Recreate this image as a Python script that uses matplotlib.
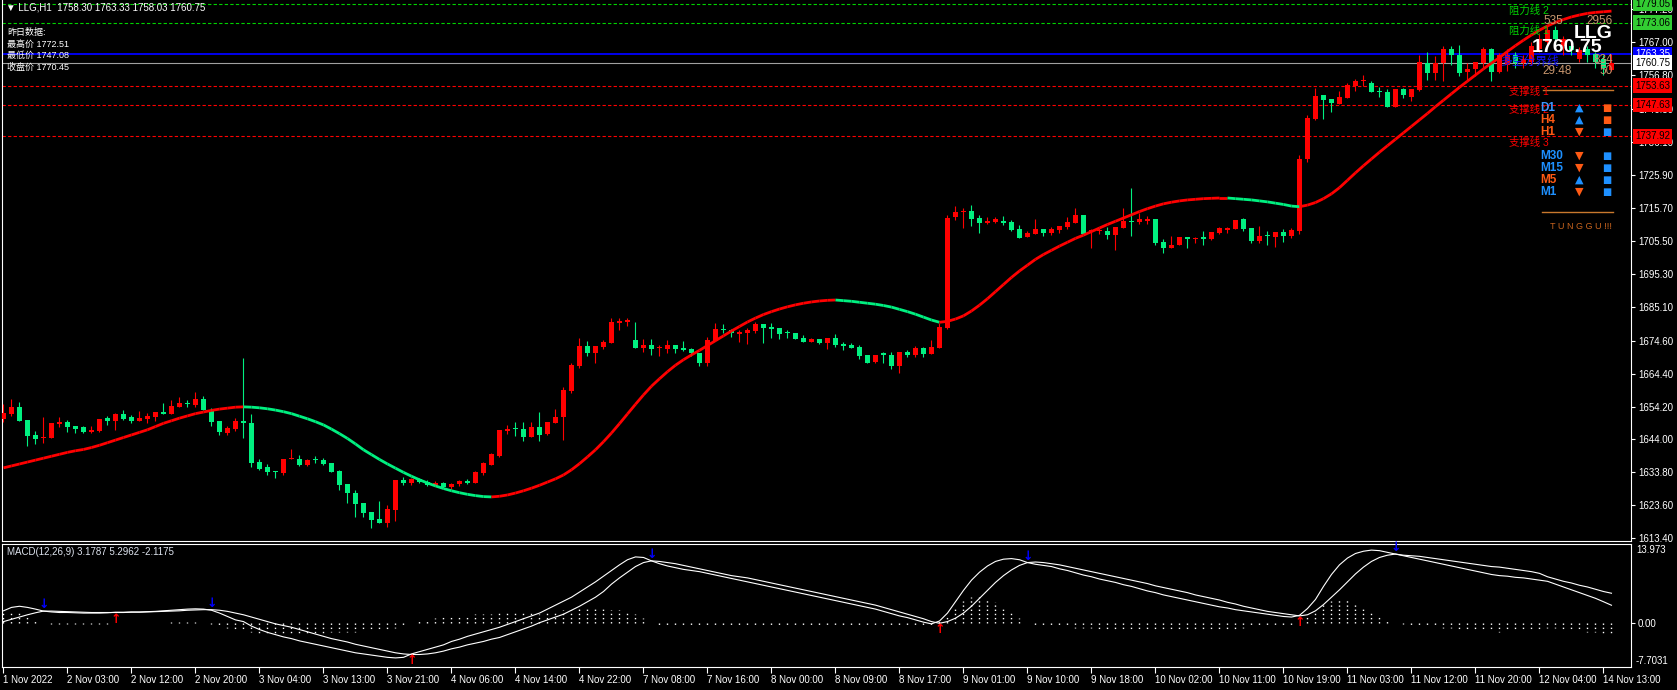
import matplotlib
matplotlib.use('Agg')
import matplotlib.pyplot as plt
import numpy as np
from matplotlib.collections import LineCollection

plt.rcParams['font.family'] = ['Liberation Sans', 'Noto Sans CJK SC', 'DejaVu Sans']

# ---- H1 bars (red = up bar, green = down bar) ----
open_ = [
    1650.3, 1651.9, 1654.0, 1650.0, 1645.4, 1644.5, 1644.5, 1648.9, 1649.5, 1648.2,
    1647.9, 1646.3, 1646.6, 1650.5, 1649.7, 1651.9, 1650.8, 1649.7, 1650.3, 1651.0,
    1652.6, 1651.9, 1654.1, 1655.0, 1654.8, 1656.5, 1652.9, 1649.7, 1646.1, 1647.3,
    1649.7, 1649.2, 1636.9, 1635.5, 1634.2, 1633.7, 1637.8, 1637.9, 1636.1, 1637.7,
    1637.6, 1636.6, 1634.2, 1630.2, 1627.5, 1624.4, 1621.5, 1619.3, 1618.1, 1622.1,
    1631.4, 1630.5, 1631.6, 1630.8, 1630.0, 1630.6, 1629.3, 1630.1, 1631.0, 1630.6,
    1633.7, 1636.1, 1638.9, 1646.7, 1647.3, 1647.3, 1644.9, 1647.9, 1645.6, 1649.0,
    1651.1, 1659.0, 1666.8, 1673.0, 1670.9, 1672.7, 1674.0, 1680.2, 1680.5, 1674.8,
    1672.4, 1673.3, 1672.4, 1672.1, 1673.3, 1672.3, 1672.0, 1670.7, 1667.8, 1674.6,
    1678.1, 1677.9, 1676.7, 1676.9, 1677.7, 1679.8, 1678.9, 1678.6, 1677.2, 1677.1,
    1675.5, 1674.3, 1675.0, 1673.8, 1675.5, 1673.5, 1673.3, 1672.7, 1670.2, 1668.1,
    1670.7, 1670.2, 1666.6, 1671.2, 1670.2, 1672.4, 1670.5, 1672.4, 1678.4, 1713.0,
    1714.5, 1714.9, 1712.7, 1711.1, 1711.4, 1711.8, 1711.4, 1709.2, 1706.7, 1707.6,
    1709.2, 1708.1, 1709.0, 1709.7, 1711.2, 1713.5, 1708.5, 1708.5, 1708.6, 1707.3,
    1709.4, 1711.5, 1711.3, 1711.7, 1712.3, 1705.3, 1703.2, 1704.2, 1706.8, 1706.2,
    1706.8, 1706.1, 1707.9, 1708.9, 1709.2, 1712.2, 1709.6, 1705.5, 1707.1, 1706.8,
    1708.4, 1707.0, 1708.6, 1731.0, 1743.2, 1750.7, 1749.5, 1747.9, 1749.9, 1753.5,
    1755.1, 1754.5, 1751.8, 1751.6, 1747.1, 1752.5, 1750.0, 1752.3, 1760.5, 1757.4,
    1760.5, 1765.0, 1763.1, 1757.7, 1758.9, 1760.6, 1765.0, 1757.8, 1760.0, 1763.0,
    1760.5, 1761.0, 1765.0, 1767.0, 1771.0, 1766.0, 1766.0, 1762.0, 1765.0, 1763.5,
    1762.0, 1758.30,
]
high = [
    1655.0, 1656.5, 1655.6, 1650.0, 1646.6, 1651.0, 1649.1, 1650.9, 1650.0, 1648.2,
    1648.2, 1648.3, 1650.3, 1651.4, 1652.3, 1653.1, 1651.6, 1652.8, 1652.3, 1652.6,
    1655.4, 1656.2, 1657.0, 1656.2, 1658.7, 1657.4, 1653.6, 1649.7, 1648.2, 1650.5,
    1669.1, 1651.9, 1637.9, 1636.3, 1634.2, 1637.8, 1641.0, 1639.2, 1637.9, 1638.9,
    1638.4, 1636.6, 1634.5, 1630.2, 1628.3, 1624.4, 1621.5, 1624.9, 1623.7, 1631.4,
    1632.4, 1632.0, 1632.0, 1631.5, 1631.2, 1630.9, 1630.5, 1631.5, 1631.6, 1634.2,
    1637.1, 1639.9, 1646.9, 1648.4, 1649.4, 1649.4, 1649.4, 1652.5, 1649.4, 1653.4,
    1660.1, 1667.6, 1675.3, 1674.5, 1673.0, 1674.8, 1681.7, 1681.5, 1681.7, 1680.4,
    1675.0, 1675.0, 1673.2, 1674.8, 1673.3, 1674.5, 1672.3, 1670.7, 1675.8, 1680.2,
    1679.9, 1678.1, 1677.9, 1678.6, 1680.5, 1679.8, 1680.2, 1678.6, 1677.9, 1677.1,
    1676.4, 1675.3, 1675.0, 1675.5, 1676.7, 1674.3, 1673.8, 1673.3, 1670.2, 1670.2,
    1671.2, 1671.2, 1671.2, 1671.7, 1672.9, 1672.7, 1674.8, 1680.0, 1713.5, 1716.3,
    1715.6, 1716.6, 1713.5, 1713.0, 1713.0, 1713.3, 1712.0, 1710.4, 1708.6, 1712.2,
    1709.2, 1709.9, 1710.1, 1712.8, 1715.7, 1713.5, 1709.1, 1709.4, 1709.9, 1709.7,
    1715.6, 1721.8, 1714.0, 1713.2, 1712.3, 1706.0, 1707.1, 1706.8, 1706.8, 1706.8,
    1708.5, 1708.4, 1709.9, 1709.9, 1712.0, 1712.5, 1709.6, 1710.1, 1708.6, 1708.4,
    1709.1, 1709.4, 1732.0, 1744.5, 1752.8, 1750.7, 1749.5, 1751.9, 1754.3, 1755.6,
    1756.9, 1755.1, 1753.3, 1752.6, 1752.5, 1753.0, 1752.5, 1763.0, 1764.0, 1762.8,
    1765.9, 1765.9, 1766.2, 1760.6, 1760.9, 1765.6, 1765.3, 1763.6, 1765.0, 1764.0,
    1763.0, 1767.0, 1769.5, 1772.5, 1772.0, 1769.0, 1767.0, 1765.5, 1766.0, 1764.0,
    1763.0, 1763.33,
]
low = [
    1649.5, 1651.4, 1649.8, 1642.1, 1642.7, 1642.8, 1644.5, 1648.0, 1646.4, 1646.1,
    1645.9, 1646.1, 1646.4, 1648.5, 1646.9, 1650.0, 1649.2, 1649.7, 1649.2, 1649.7,
    1651.9, 1651.9, 1654.1, 1654.1, 1654.1, 1653.1, 1648.3, 1645.4, 1645.4, 1646.5,
    1644.5, 1635.6, 1634.5, 1633.0, 1632.0, 1633.0, 1637.8, 1635.8, 1635.8, 1636.8,
    1636.2, 1634.0, 1628.3, 1624.4, 1619.9, 1619.9, 1616.5, 1618.1, 1617.0, 1618.7,
    1630.0, 1630.0, 1630.4, 1629.6, 1629.5, 1628.9, 1628.8, 1629.5, 1630.2, 1630.4,
    1633.0, 1636.1, 1638.5, 1645.7, 1645.1, 1643.6, 1644.9, 1643.6, 1645.4, 1649.0,
    1643.8, 1658.5, 1666.0, 1669.9, 1667.6, 1671.9, 1674.0, 1677.9, 1679.3, 1672.2,
    1671.2, 1670.2, 1669.9, 1670.9, 1670.9, 1671.5, 1669.9, 1666.6, 1666.8, 1674.6,
    1676.9, 1675.6, 1674.3, 1673.5, 1677.1, 1673.8, 1675.3, 1675.2, 1675.3, 1675.0,
    1674.1, 1674.1, 1673.6, 1672.0, 1672.5, 1671.7, 1672.2, 1668.9, 1667.8, 1667.8,
    1667.8, 1665.7, 1664.5, 1669.6, 1669.6, 1669.6, 1670.5, 1672.4, 1678.2, 1712.0,
    1709.6, 1710.1, 1708.0, 1710.8, 1711.1, 1710.3, 1708.5, 1706.5, 1706.7, 1707.6,
    1706.9, 1707.4, 1708.0, 1709.2, 1711.2, 1707.6, 1703.4, 1707.8, 1706.2, 1702.7,
    1709.4, 1707.0, 1710.8, 1710.7, 1704.2, 1701.9, 1703.2, 1704.2, 1703.4, 1704.8,
    1704.2, 1705.8, 1707.6, 1708.0, 1709.2, 1708.6, 1704.8, 1705.0, 1704.2, 1703.7,
    1705.3, 1706.5, 1707.6, 1730.0, 1742.9, 1743.3, 1745.4, 1747.9, 1749.9, 1752.1,
    1753.5, 1751.6, 1750.2, 1746.9, 1747.1, 1749.8, 1749.0, 1752.0, 1755.4, 1755.4,
    1755.0, 1760.0, 1756.6, 1755.0, 1756.6, 1759.1, 1755.0, 1757.5, 1758.0, 1759.0,
    1759.0, 1760.0, 1764.0, 1766.0, 1766.0, 1763.0, 1763.0, 1761.0, 1761.0, 1759.0,
    1757.0, 1758.03,
]
close = [
    1652.3, 1654.0, 1649.8, 1645.1, 1644.2, 1644.7, 1649.1, 1649.5, 1648.0, 1647.2,
    1646.3, 1647.0, 1650.3, 1649.7, 1651.9, 1650.3, 1649.7, 1650.7, 1651.4, 1652.6,
    1651.9, 1654.4, 1655.4, 1654.9, 1656.5, 1653.1, 1649.5, 1646.4, 1647.5, 1649.7,
    1649.0, 1636.8, 1634.8, 1634.0, 1633.8, 1637.8, 1637.9, 1636.1, 1637.6, 1637.6,
    1636.4, 1634.0, 1629.9, 1627.3, 1624.1, 1621.3, 1619.0, 1618.1, 1622.4, 1631.4,
    1630.5, 1631.6, 1630.8, 1630.0, 1630.6, 1629.3, 1630.1, 1631.0, 1630.6, 1633.8,
    1636.6, 1639.5, 1646.9, 1647.3, 1647.2, 1644.9, 1647.9, 1645.4, 1649.4, 1651.1,
    1659.3, 1667.1, 1673.0, 1670.9, 1673.0, 1674.3, 1680.4, 1680.7, 1681.0, 1672.2,
    1673.3, 1672.1, 1672.5, 1673.3, 1672.1, 1671.7, 1670.9, 1667.8, 1674.8, 1678.1,
    1678.0, 1676.9, 1677.2, 1677.9, 1679.8, 1678.6, 1678.3, 1676.7, 1677.1, 1675.2,
    1674.3, 1675.0, 1673.9, 1675.5, 1673.3, 1673.1, 1672.4, 1670.0, 1667.8, 1670.2,
    1670.2, 1666.8, 1671.2, 1670.2, 1672.4, 1670.4, 1672.5, 1678.9, 1712.5, 1714.6,
    1714.6, 1712.3, 1711.2, 1711.8, 1712.3, 1711.2, 1708.9, 1706.5, 1707.9, 1709.1,
    1708.1, 1709.2, 1710.1, 1711.5, 1713.5, 1707.6, 1708.6, 1708.6, 1707.3, 1709.7,
    1711.7, 1711.4, 1712.3, 1712.2, 1705.0, 1703.2, 1704.2, 1706.8, 1706.1, 1706.3,
    1706.1, 1708.4, 1709.4, 1709.6, 1712.0, 1709.1, 1705.5, 1707.0, 1707.0, 1708.4,
    1707.0, 1708.9, 1731.0, 1743.5, 1750.4, 1749.2, 1748.3, 1750.2, 1753.8, 1755.1,
    1755.2, 1751.6, 1751.7, 1747.1, 1752.5, 1750.7, 1752.5, 1761.0, 1757.4, 1760.5,
    1765.0, 1763.1, 1757.4, 1758.9, 1760.9, 1765.0, 1757.8, 1763.1, 1763.0, 1760.5,
    1762.0, 1766.0, 1768.0, 1771.0, 1768.0, 1768.0, 1764.5, 1764.5, 1763.0, 1761.0,
    1759.0, 1760.75,
]
# trend line (red while rising, green while falling)
trend = [
    1635.2, 1635.8, 1636.4, 1637.0, 1637.6, 1638.2, 1638.8, 1639.4, 1640.0, 1640.5,
    1640.9, 1641.5, 1642.2, 1643.0, 1643.8, 1644.6, 1645.4, 1646.2, 1647.0, 1648.0,
    1649.0, 1649.8, 1650.6, 1651.3, 1652.0, 1652.5, 1653.0, 1653.4, 1653.7, 1654.0,
    1654.1, 1654.0, 1653.8, 1653.5, 1653.1, 1652.6, 1652.0, 1651.2, 1650.4, 1649.5,
    1648.5, 1647.2, 1645.8, 1644.3, 1642.6, 1640.8, 1639.3, 1637.8, 1636.4, 1635.1,
    1633.8, 1632.6, 1631.5, 1630.5, 1629.6, 1628.8, 1628.1, 1627.5, 1627.0, 1626.6,
    1626.3, 1626.2, 1626.4, 1626.8, 1627.4, 1628.1, 1628.9, 1629.8, 1630.8, 1631.8,
    1633.0, 1634.6, 1636.5, 1638.6, 1640.8, 1643.3, 1646.0, 1648.9, 1651.9, 1654.9,
    1657.8, 1660.5, 1662.8, 1665.0, 1667.0, 1668.7, 1670.2, 1671.6, 1673.1, 1674.6,
    1676.1, 1677.6, 1679.0, 1680.4, 1681.6, 1682.7, 1683.6, 1684.4, 1685.1, 1685.7,
    1686.2, 1686.6, 1686.9, 1687.1, 1687.2, 1687.0, 1686.8, 1686.5, 1686.2, 1685.9,
    1685.5, 1685.0, 1684.3, 1683.6, 1682.8, 1681.9, 1681.0, 1680.3, 1680.6, 1681.3,
    1682.3, 1683.8, 1685.6, 1687.6, 1689.8, 1692.0, 1694.2, 1696.2, 1698.0, 1699.8,
    1701.3, 1702.6, 1703.9, 1705.1, 1706.3, 1707.3, 1708.4, 1709.5, 1710.6, 1711.6,
    1712.6, 1713.6, 1714.6, 1715.5, 1716.3, 1717.0, 1717.5, 1717.9, 1718.2, 1718.4,
    1718.6, 1718.7, 1718.8, 1718.8, 1718.6, 1718.4, 1718.2, 1717.9, 1717.6, 1717.2,
    1716.8, 1716.3, 1716.1, 1716.6, 1717.4, 1718.6, 1720.1, 1722.0, 1724.3, 1726.6,
    1728.8, 1730.9, 1733.0, 1735.0, 1737.0, 1739.0, 1741.0, 1743.0, 1745.0, 1747.1,
    1749.1, 1751.1, 1753.1, 1755.0, 1756.9, 1758.8, 1760.6, 1762.3, 1764.2, 1766.0,
    1767.7, 1769.3, 1770.8, 1772.1, 1773.2, 1774.1, 1774.9, 1775.5, 1776.0, 1776.3,
    1776.5, 1776.7,
]
macd_main = [
    2.2, 2.8, 3.0, 2.8, 2.5, 2.15, 2.0, 1.9, 1.9, 1.85,
    1.8, 1.8, 1.8, 1.85, 1.95, 1.95, 2.0, 2.0, 2.05, 2.1,
    2.2, 2.3, 2.4, 2.5, 2.55, 2.5, 2.3, 1.8, 1.2, 0.6,
    0.3, -0.5, -1.1, -1.6, -2.0, -2.4, -2.7, -3.1, -3.4, -3.7,
    -4.0, -4.3, -4.6, -4.9, -5.2, -5.4, -5.6, -5.8, -6.0, -6.1,
    -6.0, -5.4, -5.0, -4.6, -4.2, -3.8, -3.2, -2.8, -2.3, -1.9,
    -1.5, -1.1, -0.7, -0.2, 0.3, 0.8, 1.3, 1.8, 2.5, 3.2,
    3.9, 4.6, 5.5, 6.4, 7.3, 8.3, 9.3, 10.3, 11.2, 11.7,
    11.6, 11.0, 10.5, 10.1, 9.8, 9.5, 9.3, 9.1, 8.8, 8.5,
    8.2, 7.9, 7.6, 7.3, 7.0, 6.7, 6.4, 6.1, 5.8, 5.5,
    5.2, 4.9, 4.6, 4.3, 4.0, 3.7, 3.4, 3.1, 2.8, 2.5,
    2.1, 1.7, 1.3, 1.0, 0.6, 0.2, -0.1, 0.4, 1.8, 3.8,
    5.8, 7.6, 9.0, 10.1, 10.9, 11.3, 11.4, 11.2, 10.7, 10.4,
    10.2, 10.0, 9.6, 9.3, 8.9, 8.5, 8.2, 7.8, 7.5, 7.2,
    6.8, 6.5, 6.1, 5.7, 5.4, 5.0, 4.7, 4.4, 4.1, 3.8,
    3.5, 3.2, 2.9, 2.7, 2.4, 2.2, 2.0, 1.8, 1.6, 1.4,
    1.2, 1.1, 1.4, 2.6, 4.2, 6.5, 8.6, 10.3, 11.5, 12.3,
    12.7, 12.9, 12.8, 12.5, 12.2, 11.9, 11.6, 11.3, 11.0, 10.7,
    10.4, 10.1, 9.8, 9.5, 9.2, 8.9, 8.6, 8.4, 8.3, 8.1,
    8.0, 7.8, 7.6, 7.4, 6.9, 6.4, 5.9, 5.4, 4.9, 4.4,
    3.8, 3.1787,
]
macd_signal = [
    0.3, 0.7, 1.1, 1.5, 1.85, 2.15, 2.15, 2.1, 2.05, 2.0,
    1.95, 1.9, 1.9, 1.9, 1.9, 1.9, 1.95, 1.95, 2.0, 2.05,
    2.1, 2.15, 2.2, 2.3, 2.35, 2.4, 2.4, 2.3, 2.1, 1.8,
    1.5, 1.1, 0.7, 0.3, -0.1, -0.4, -0.7, -1.1, -1.5, -1.9,
    -2.3, -2.7, -3.0, -3.3, -3.7, -4.0, -4.3, -4.6, -4.9, -5.2,
    -5.4, -5.5, -5.5, -5.4, -5.2, -4.9, -4.5, -4.2, -3.8, -3.5,
    -3.2, -2.8, -2.5, -2.0, -1.5, -1.0, -0.5, 0.1, 0.6, 1.1,
    1.6, 2.3, 3.0, 3.8, 4.6, 5.6, 6.9, 8.0, 9.0, 10.0,
    10.7, 11.0, 10.9, 10.7, 10.5, 10.2, 9.9, 9.6, 9.3, 9.0,
    8.7, 8.4, 8.2, 8.0, 7.7, 7.4, 7.1, 6.8, 6.5, 6.2,
    5.9, 5.6, 5.3, 5.0, 4.7, 4.4, 4.1, 3.8, 3.5, 3.2,
    2.8, 2.4, 2.0, 1.6, 1.2, 0.8, 0.3, 0.0, 0.3, 0.9,
    1.8, 3.0, 4.4, 5.8, 7.2, 8.4, 9.4, 10.2, 10.7, 10.8,
    10.7, 10.5, 10.3, 10.0, 9.7, 9.4, 9.1, 8.8, 8.5, 8.2,
    7.9, 7.6, 7.3, 7.0, 6.6, 6.3, 6.0, 5.7, 5.4, 5.0,
    4.7, 4.4, 4.1, 3.7, 3.4, 3.0, 2.7, 2.4, 2.1, 1.9,
    1.7, 1.5, 1.3, 1.5, 2.2, 3.3, 4.6, 5.9, 7.3, 8.7,
    9.9, 10.9, 11.6, 12.0, 12.2, 12.0, 11.9, 11.8, 11.6, 11.4,
    11.2, 11.0, 10.8, 10.6, 10.4, 10.2, 10.0, 9.9, 9.7, 9.5,
    9.3, 9.1, 8.8, 8.2, 7.8, 7.4, 7.1, 6.7, 6.4, 6.0,
    5.6, 5.2962,
]
sell_bars = [5, 26, 81, 128, 174]
buy_bars = [14, 51, 117, 162]

time_labels = ['1 Nov 2022', '2 Nov 03:00', '2 Nov 12:00', '2 Nov 20:00', '3 Nov 04:00',
               '3 Nov 13:00', '3 Nov 21:00', '4 Nov 06:00', '4 Nov 14:00', '4 Nov 22:00',
               '7 Nov 08:00', '7 Nov 16:00', '8 Nov 00:00', '8 Nov 09:00', '8 Nov 17:00',
               '9 Nov 01:00', '9 Nov 10:00', '9 Nov 18:00', '10 Nov 02:00', '10 Nov 11:00',
               '10 Nov 19:00', '11 Nov 03:00', '11 Nov 12:00', '11 Nov 20:00', '12 Nov 04:00',
               '14 Nov 13:00']
price_ticks = [1777.20, 1767.00, 1756.80, 1746.50, 1736.10, 1725.90, 1715.70, 1705.50,
               1695.30, 1685.10, 1674.60, 1664.40, 1654.20, 1644.00, 1633.80, 1623.60, 1613.40]

resist = [1779.05, 1773.06]
support = [1753.63, 1747.63, 1737.92]
pivot = 1763.35
last_price = 1760.75

tf_names = ['D1', 'H4', 'H1', 'M30', 'M15', 'M5', 'M1']
tf_up = [True, True, False, False, False, True, False]
tf_name_col = ['#3c96ff', '#ff5a14', '#ff5a14', '#1e90ff', '#1e90ff', '#ff5a14', '#1e90ff']
tf_box_col = ['#ff5a14', '#ff5a14', '#1e90ff', '#1e90ff', '#1e90ff', '#1e90ff', '#1e90ff']

W, H = 1677, 690
RED = '#ff0000'
GRN = '#00f080'
BLUE_TF = '#1e90ff'
ORG_TF = '#ff5a14'
TAN = '#c8966e'

fig = plt.figure(figsize=(W / 100, H / 100), dpi=100, facecolor='black')
ax = fig.add_axes([2 / W, 1 - 541 / H, 1629 / W, 541 / H], facecolor='black')
ax2 = fig.add_axes([2 / W, 1 - 667 / H, 1629 / W, 123 / H], facecolor='black')


def ftext(px, py, s, **kw):
    kw.setdefault('va', 'center')
    fig.text(px / W, 1 - py / H, s, **kw)


n = len(close)
x = np.arange(n)
o = np.array(open_)
c = np.array(close)
hi = np.array(high)
lo = np.array(low)
col = np.where(c >= o, RED, GRN)

# level lines
for p in resist:
    ax.axhline(p, color='#00d200', lw=0.8, ls=(0, (3, 2)), zorder=1)
for p in support:
    ax.axhline(p, color=RED, lw=0.8, ls=(0, (3, 2)), zorder=1)
ax.axhline(pivot, color='#0000ff', lw=1.3, zorder=1)
ax.axhline(last_price, color='#a0a0a0', lw=0.8, zorder=1)

# candles
ax.vlines(x, lo, hi, colors=col, linewidth=0.8, zorder=3)
ax.bar(x, np.maximum(np.abs(c - o), 0.3), bottom=np.minimum(o, c), width=0.62,
       color=col, linewidth=0, zorder=4)

# trend line coloured by slope
tr = np.array(trend)
pts = np.column_stack([x, tr])
segs = np.stack([pts[:-1], pts[1:]], axis=1)
seg_col = [RED if tr[i + 1] >= tr[i] else GRN for i in range(n - 1)]
ax.add_collection(LineCollection(segs, colors=seg_col, linewidths=2.0, zorder=5))

xmin, xmax = -0.1875, 203.44
ax.set_xlim(xmin, xmax)
ax.set_ylim(1612.54, 1780.14)
ax.yaxis.tick_right()
ax.set_yticks(price_ticks)
ax.set_yticklabels([f'{v:.2f}' for v in price_ticks])
ax.tick_params(axis='y', colors='white', labelsize=7, length=3, width=0.8, pad=2)
ax.tick_params(axis='x', bottom=False, labelbottom=False)
ax.spines['top'].set_visible(False)
for s in ['left', 'right', 'bottom']:
    ax.spines[s].set_color('white')

# price tags on the axis
tags = [(resist[0], '#32cd32', 'black'), (resist[1], '#32cd32', 'black'),
        (pivot, '#0000ff', 'white'), (last_price, 'white', 'black'),
        (support[0], RED, 'black'), (support[1], RED, 'black'), (support[2], RED, 'black')]
for p, bg, fg in tags:
    ax.annotate(f'{p:.2f}', xy=(1, p), xycoords=('axes fraction', 'data'),
                xytext=(4, 0), textcoords='offset pixels', ha='left', va='center',
                fontsize=7, color=fg, annotation_clip=False, zorder=10,
                bbox=dict(boxstyle='square,pad=0.25', fc=bg, ec='none'))

# MACD panel
mm = np.array(macd_main)
ms = np.array(macd_signal)
hist = mm - ms
ax2.vlines(x, 0, hist, colors='white', linewidth=1, linestyles=(0, (1, 2)))
ax2.plot(x, mm, color='white', lw=0.8)
ax2.plot(x, ms, color='white', lw=0.8)
for b in sell_bars:
    ax2.text(b, ms[b], '↓', color='#0000ff', fontsize=9, fontweight='bold',
             ha='center', va='bottom', family='DejaVu Sans')
for b in buy_bars:
    ax2.text(b, ms[b], '↑', color=RED, fontsize=9, fontweight='bold',
             ha='center', va='top', family='DejaVu Sans')
ax2.set_xlim(xmin, xmax)
ax2.set_ylim(-7.7031, 13.973)
ax2.yaxis.tick_right()
ax2.set_yticks([0])
ax2.set_yticklabels(['0.00'])
ax2.set_xticks(np.arange(len(time_labels)) * 8)
ax2.set_xticklabels(time_labels, ha='left')
ax2.tick_params(axis='y', colors='white', labelsize=7, length=3, width=0.8, pad=2)
ax2.tick_params(axis='x', colors='white', labelsize=7, length=4, width=0.8, pad=2)
for s in ax2.spines.values():
    s.set_color('white')
ftext(1636, 550, '13.973', color='white', fontsize=7)
ftext(1636, 661, '-7.7031', color='white', fontsize=7)
ftext(7, 552, 'MACD(12,26,9) 3.1787 5.2962 -2.1175', color='#dde3ee', fontsize=7)

# info texts, upper left
ftext(6, 7, '▼ LLG,H1  1758.30 1763.33 1758.03 1760.75', color='white', fontsize=7)
ftext(7, 32, '昨日数据:', color='white', fontsize=6.5)
ftext(7, 44, '最高价 1772.51', color='white', fontsize=6.5)
ftext(7, 55.5, '最低价 1747.08', color='white', fontsize=6.5)
ftext(7, 67, '收盘价 1770.45', color='white', fontsize=6.5)

# right side panel texts
ftext(1509, 11, '阻力线 2', color='#00d200', fontsize=7.5)
ftext(1509, 31, '阻力线 1', color='#00d200', fontsize=7.5)
ftext(1509, 92, '支撑线 1', color=RED, fontsize=7.5)
ftext(1509, 110, '支撑线 2', color=RED, fontsize=7.5)
ftext(1509, 143, '支撑线 3', color=RED, fontsize=7.5)
ftext(1543, 21, '535', color=TAN, fontsize=8.5)
ftext(1613, 21, '2956', color=TAN, fontsize=8.5, ha='right')
ftext(1613, 34, 'LLG', color='white', fontsize=14, fontweight='bold', ha='right')
ftext(1532, 48, '1760.75', color='white', fontsize=14, fontweight='bold')
ftext(1500, 62, '多空分界线', color='#1414ff', fontsize=8.5)
ftext(1613, 60, '834', color=TAN, fontsize=8.5, ha='right')
ftext(1542, 71, '29:48', color=TAN, fontsize=8.5)
ftext(1613, 71, '50', color=TAN, fontsize=8.5, ha='right')
fig.add_artist(plt.Line2D([1543 / W, 1613 / W], [1 - 90 / H, 1 - 90 / H], color='#c8782d', lw=1))

tf_y = [108, 120, 132, 156, 168, 180, 192]
for name, yy, upd, ncol, bcol in zip(tf_names, tf_y, tf_up, tf_name_col, tf_box_col):
    ftext(1540, yy, name, color=ncol, fontsize=8.5, fontweight='bold')
    ftext(1579, yy, '▲' if upd else '▼', color=BLUE_TF if upd else ORG_TF,
          fontsize=8, ha='center', family='DejaVu Sans')
    ftext(1607, yy, '■', color=bcol, fontsize=7, ha='center', family='DejaVu Sans')
fig.add_artist(plt.Line2D([1542 / W, 1613 / W], [1 - 212 / H, 1 - 212 / H], color='#c8782d', lw=1))
ftext(1612, 227, 'T U N G G U !!!', color='#c8641e', fontsize=6.5, ha='right')

fig.savefig('out.png', dpi=100, facecolor='black')
